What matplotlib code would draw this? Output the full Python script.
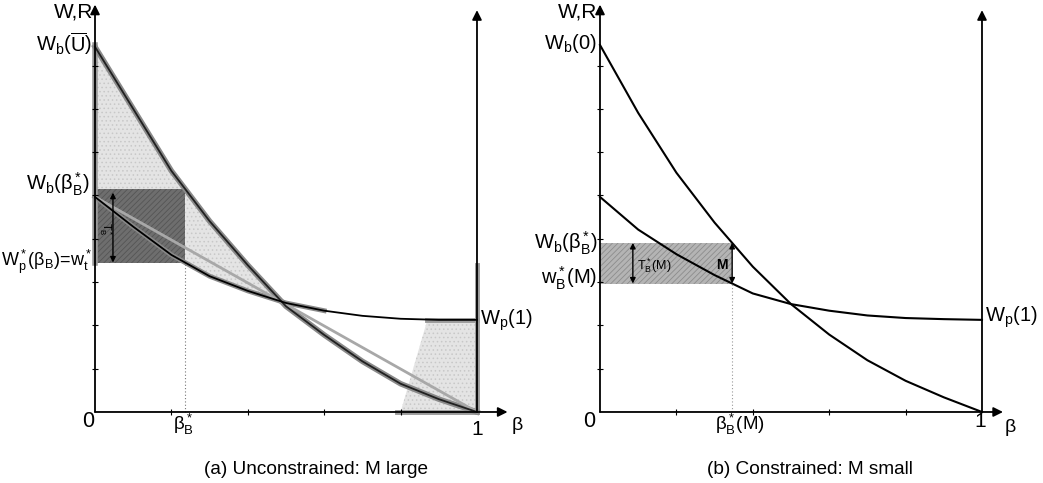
import numpy as np
import matplotlib.pyplot as plt

plt.rcParams['font.family'] = ['Liberation Sans', 'DejaVu Sans']
plt.rcParams['mathtext.fontset'] = 'custom'
plt.rcParams['mathtext.rm'] = 'Liberation Sans'
plt.rcParams['mathtext.it'] = 'Liberation Sans:italic'
plt.rcParams['mathtext.bf'] = 'Liberation Sans:bold'
plt.rcParams['hatch.linewidth'] = 0.6

# значения (beta от 0 до 1)
beta = [0.0, 0.1, 0.2, 0.3, 0.4, 0.5, 0.6, 0.7, 0.8, 0.9, 1.0]
wb_a = [0.995, 0.826, 0.657, 0.520, 0.400, 0.288, 0.210, 0.138, 0.077, 0.035, 0.0]
wp_a = [0.586, 0.505, 0.428, 0.370, 0.330, 0.297, 0.276, 0.262, 0.254, 0.251, 0.251]
wb_b = [1.0, 0.815, 0.652, 0.516, 0.396, 0.294, 0.211, 0.141, 0.085, 0.040, 0.0]
wp_b = [0.586, 0.497, 0.430, 0.373, 0.323, 0.294, 0.276, 0.263, 0.256, 0.253, 0.251]
beta_star_a = 0.236
beta_star_b = 0.346
cross_a = 0.47
shade_x = [0.80, 0.87, 1.0, 1.0]
shade_y = [0.0, 0.251, 0.251, 0.0]
ytick_step = 0.118
xtick_step = 0.2

fig = plt.figure(figsize=(10.43, 4.83), dpi=100)
ax1 = fig.add_axes([0, 0, 520 / 1043, 1])
ax2 = fig.add_axes([520 / 1043, 0, 523 / 1043, 1])
ax1.set_xlim(-0.2487, 1.1126)
ax2.set_xlim(-0.2094, 1.1597)
for ax in (ax1, ax2):
    ax.set_ylim(-0.1935, 1.1226)
    ax.axis('off')

fs = 14.5
arw = dict(arrowstyle='-|>', color='k', lw=1.3, mutation_scale=14, shrinkA=0, shrinkB=0)
dbl = dict(arrowstyle='<|-|>', color='k', lw=1.0, mutation_scale=8, shrinkA=0, shrinkB=0)


def draw_axes(ax, xend):
    ax.annotate('', xy=(0, 1.11), xytext=(0, 0), arrowprops=arw)
    ax.annotate('', xy=(1, 1.095), xytext=(1, 0), arrowprops=arw)
    ax.annotate('', xy=(xend, 0), xytext=(0, 0), arrowprops=arw)
    yt = np.arange(1, 9) * ytick_step
    ax.plot(np.zeros(len(yt)), yt, ls='none', marker='_', ms=5, color='k', mew=0.8)
    xt = np.arange(1, 5) * xtick_step
    ax.plot(xt, np.zeros(len(xt)), ls='none', marker='|', ms=4, color='k', mew=0.8)


# ---------- (a) Unconstrained ----------
bx = np.array(beta)
wba = np.array(wb_a)
wpa = np.array(wp_a)
wb_s = np.interp(beta_star_a, bx, wba)
wp_s = np.interp(beta_star_a, bx, wpa)

m1 = bx <= beta_star_a
x1 = np.r_[bx[m1], beta_star_a]
ax1.fill_between(x1, wb_s, np.interp(x1, bx, wba), color='#e4e4e4', hatch='....',
                 edgecolor='#c8c8c8', lw=0)
x2 = np.linspace(beta_star_a, cross_a, 30)
ax1.fill_between(x2, np.interp(x2, bx, wpa), np.interp(x2, bx, wba), color='#e4e4e4',
                 hatch='....', edgecolor='#c8c8c8', lw=0)
ax1.fill(shade_x, shade_y, color='#e4e4e4', hatch='....', edgecolor='#c8c8c8', lw=0)
ax1.fill_between([0, beta_star_a], wp_s, wb_s, color='#6e6e6e', hatch='//////',
                 edgecolor='#555555', lw=0)

# серые "подсветки" из скана
ax1.plot([0, 0], [wp_s, 1.0], color='#9a9a9a', lw=4)
ax1.plot([1, 1], [0, 0.40], color='#9a9a9a', lw=3.5)
ax1.plot([0.79, 1.0], [0, 0], color='#9a9a9a', lw=3.5)
ax1.plot([0.87, 1.0], [0.251, 0.251], color='#9a9a9a', lw=3.5)
ax1.plot(bx, wba, color='#8a8a8a', lw=4)
ma = bx <= 0.6
ax1.plot(bx[ma], wpa[ma], color='#8a8a8a', lw=3.5)
ax1.plot([0, 1], [wp_a[0], 0], color='#a8a8a8', lw=2)

draw_axes(ax1, 1.08)
ax1.plot(bx, wba, color='#202020', lw=1.3)
ax1.plot(bx, wpa, color='k', lw=1.3)
ax1.plot([beta_star_a, beta_star_a], [0, wp_s], color='#777777', lw=0.8, ls=(0, (1, 2)))
ax1.annotate('', xy=(0.047, wb_s - 0.01), xytext=(0.047, wp_s), arrowprops=dbl)
ax1.text(0.026, 0.50, r'$\mathrm{T_B^*}$', fontsize=8, rotation=270, ha='center', va='center')

ax1.text(-0.005, 1.09, 'W,R', fontsize=15, ha='right', va='center')
ax1.text(-0.008, 1.005, r'$\mathrm{W_b(\overline{U})}$', fontsize=fs, ha='right', va='center')
ax1.text(-0.013, 0.621, r'$\mathrm{W_b(\beta_B^*)}$', fontsize=fs, ha='right', va='center')
ax1.text(-0.005, 0.409, r'$\mathrm{W_p^*(\beta_B)\!=\!w_t^*}$', fontsize=13, ha='right', va='center')
ax1.text(-0.018, -0.027, '0', fontsize=15.5, ha='center', va='center')
ax1.text(beta_star_a - 0.005, -0.033, r'$\mathrm{\beta_B^*}$', fontsize=13.5, ha='center', va='center')
ax1.text(1.0, -0.049, '1', fontsize=15, ha='center', va='center')
ax1.text(1.105, -0.038, 'β', fontsize=14, ha='center', va='center')
ax1.text(1.008, 0.251, r'$\mathrm{W_p(1)}$', fontsize=fs, ha='left', va='center')
ax1.text(0.579, -0.158, '(a) Unconstrained: M large', fontsize=13.7, ha='center', va='center')

# ---------- (b) Constrained ----------
wbb = np.array(wb_b)
wpb = np.array(wp_b)
wb_sb = np.interp(beta_star_b, bx, wbb)
wp_sb = np.interp(beta_star_b, bx, wpb)

ax2.fill_between([0, beta_star_b], wp_sb, wb_sb, color='#b4b4b4', hatch='//////',
                 edgecolor='#8c8c8c', lw=0)
draw_axes(ax2, 1.055)
ax2.plot(bx, wbb, color='k', lw=1.5)
ax2.plot(bx, wpb, color='k', lw=1.5)
ax2.plot([beta_star_b, beta_star_b], [0, wp_sb], color='#999999', lw=0.8, ls=(0, (1, 2)))
ax2.annotate('', xy=(0.086, wb_sb), xytext=(0.086, wp_sb), arrowprops=dbl)
ax2.annotate('', xy=(beta_star_b, wb_sb), xytext=(beta_star_b, wp_sb), arrowprops=dbl)
ax2.text(0.097, 0.40, r'$\mathrm{T_B^*(M)}$', fontsize=9, ha='left', va='center', fontweight='bold')
ax2.text(0.335, 0.40, 'M', fontsize=10, ha='right', va='center', fontweight='bold')

ax2.text(-0.008, 1.09, 'W,R', fontsize=15, ha='right', va='center')
ax2.text(-0.008, 1.005, r'$\mathrm{W_b(0)}$', fontsize=fs, ha='right', va='center')
ax2.text(-0.005, 0.46, r'$\mathrm{W_b(\beta_B^*)}$', fontsize=fs, ha='right', va='center')
ax2.text(-0.008, 0.365, r'$\mathrm{w_B^*(M)}$', fontsize=fs, ha='right', va='center')
ax2.text(-0.029, -0.027, '0', fontsize=15.5, ha='center', va='center')
ax2.text(beta_star_b + 0.02, -0.033, r'$\mathrm{\beta_B^*(M)}$', fontsize=13.5, ha='center', va='center')
ax2.text(0.995, -0.027, '1', fontsize=15, ha='center', va='center')
ax2.text(1.073, -0.041, 'β', fontsize=14, ha='center', va='center')
ax2.text(1.008, 0.259, r'$\mathrm{W_p(1)}$', fontsize=fs, ha='left', va='center')
ax2.text(0.55, -0.158, '(b) Constrained: M small', fontsize=13.7, ha='center', va='center')

fig.savefig('out.png', dpi=100)
